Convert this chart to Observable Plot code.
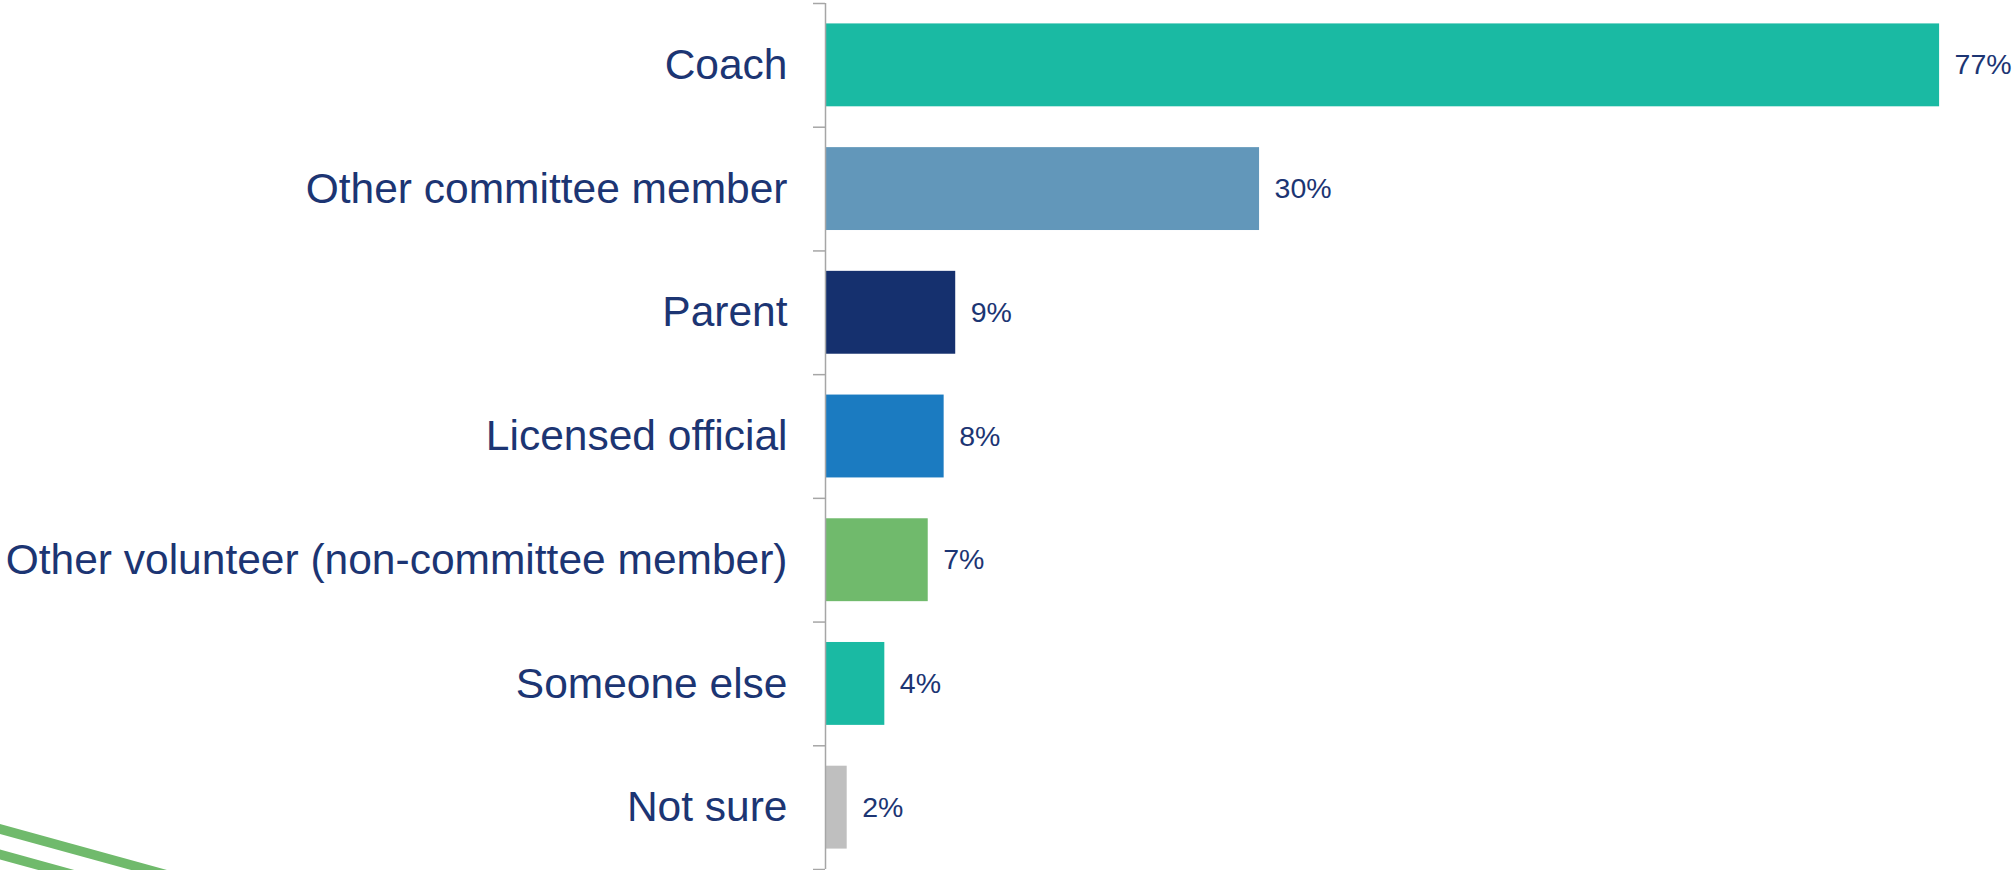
<!DOCTYPE html>
<html>
<head>
<meta charset="utf-8">
<script src="https://cdn.jsdelivr.net/npm/d3@7"></script>
<script src="https://cdn.jsdelivr.net/npm/@observablehq/plot@0.6"></script>
<style>
  html, body { margin: 0; padding: 0; background: #fff; overflow: hidden; }
  #wrap { position: relative; width: 2014px; height: 870px; }
  #deco { position: absolute; left: 0; top: 0; pointer-events: none; }
  #chart { position: absolute; left: 0; top: 0; }
</style>
</head>
<body>
<div id="wrap">
  <svg id="deco" width="2014" height="870">
    <line x1="-10" y1="826.3" x2="200" y2="884" stroke="#70BA6C" stroke-width="9.5"/>
    <line x1="-10" y1="851.8" x2="100" y2="882" stroke="#70BA6C" stroke-width="9.5"/>
  </svg>
  <div id="chart"></div>
</div>
<script>
const categories = ["Coach", "Other committee member", "Parent", "Licensed official", "Other volunteer (non-committee member)", "Someone else", "Not sure"];
const values = [77, 30, 9, 8.2, 7.1, 4.1, 1.5];
const valueLabels = ["77%", "30%", "9%", "8%", "7%", "4%", "2%"];
const barColors = ["#1ABAA3", "#6297BA", "#15306E", "#1B7BC1", "#70BA6C", "#1ABAA3", "#BFBFBF"];

const data = categories.map((c, i) => ({category: c, value: values[i], label: valueLabels[i], color: barColors[i]}));

const W = 2014, H = 870;
const marginLeft = 825, marginRight = 31.5, marginTop = 3, marginBottom = 1;
const xMax = 80;
const pxPerUnit = (W - marginLeft - marginRight) / xMax;
const step = (H - marginTop - marginBottom) / categories.length;
const tickUnits = 12 / pxPerUnit;
const navy = "#1C3573";
const axisGray = "#A6A6A6";
const font = "Liberation Sans, Arial, sans-serif";

const chart = Plot.plot({
  width: W,
  height: H,
  marginLeft, marginRight, marginTop, marginBottom,
  style: {fontFamily: font, background: "transparent", overflow: "visible"},
  x: {domain: [0, xMax], axis: null},
  y: {domain: categories, paddingInner: 0.33, paddingOuter: 0.165, round: false, axis: null},
  color: {type: "identity"},
  marks: [
    Plot.barX(data, {x: "value", y: "category", fill: "color"}),
    Plot.ruleY(categories, {y: d => d, x1: -tickUnits, x2: 0, dy: -step / 2, stroke: axisGray, strokeWidth: 1.5}),
    Plot.ruleY(categories.slice(-1), {y: d => d, x1: -tickUnits, x2: 0, dy: step / 2, stroke: axisGray, strokeWidth: 1.5}),
    Plot.ruleX([0], {stroke: axisGray, strokeWidth: 1.5}),
    Plot.text(data, {x: d => 0, y: "category", text: "category", textAnchor: "end", dx: -38, fontSize: 42.5, fill: navy, fontFamily: font}),
    Plot.text(data, {x: "value", y: "category", text: "label", textAnchor: "start", dx: 15, fontSize: 28.5, fill: navy, fontFamily: font})
  ]
});
document.getElementById("chart").appendChild(chart);
</script>
</body>
</html>
